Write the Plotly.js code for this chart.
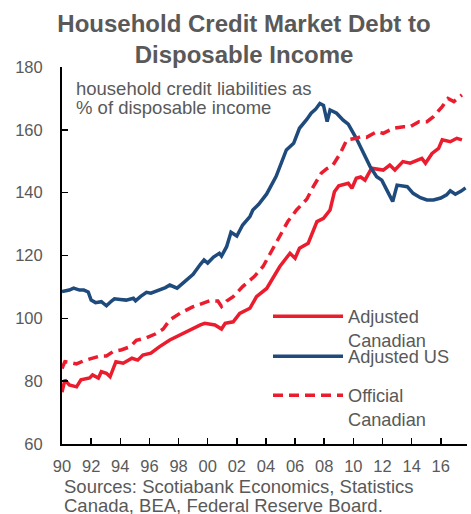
<!DOCTYPE html>
<html>
<head>
<meta charset="utf-8">
<script src="https://cdn.plot.ly/plotly-3.0.1.min.js"></script>
<style>html,body{margin:0;padding:0;background:#fff;}#chart{width:471px;height:514px;}</style>
</head>
<body>
<div id="chart"></div>
<script>
// Adjusted US
const usYears = [1990.0,1990.5,1990.8,1991.2,1991.5,1991.8,1992.0,1992.3,1992.7,1993.05,1993.4,1993.6,1994.0,1994.4,1994.9,1995.05,1995.4,1995.8,1996.1,1996.7,1997.1,1997.4,1997.9,1998.4,1999.0,1999.5,1999.75,2000.0,2000.4,2000.8,2000.95,2001.3,2001.6,2002.0,2002.4,2002.9,2003.1,2003.5,2004.05,2004.7,2005.1,2005.4,2005.9,2006.3,2006.8,2007.1,2007.4,2007.7,2007.95,2008.2,2008.4,2008.85,2009.3,2009.65,2010.2,2010.7,2011.15,2011.6,2011.95,2012.3,2012.7,2013.0,2013.7,2014.1,2014.6,2015.05,2015.5,2016.0,2016.4,2016.65,2017.0,2017.4,2017.7];
const usValues = [108.5,109.0,109.6,109.0,109.0,108.4,105.8,105.0,105.3,104.0,105.5,106.2,106.0,105.8,106.4,105.6,107.0,108.3,108.0,109.0,109.8,110.6,109.6,111.6,114.0,117.2,118.6,117.6,119.5,120.7,119.8,122.8,127.4,126.2,129.7,132.4,134.5,136.3,139.6,145.2,150.3,153.6,155.7,160.5,163.3,165.3,166.5,168.4,167.8,162.6,166.3,165.3,163.1,161.8,157.3,152.5,148.3,145.1,144.0,140.8,137.2,142.4,141.9,139.8,138.4,137.7,137.7,138.3,139.3,140.6,139.5,140.5,141.5];

// Official Canadian
const offYears = [1990.0,1990.2,1990.6,1991.0,1991.5,1992.1,1992.6,1993.05,1993.5,1994.1,1994.7,1995.1,1995.8,1996.4,1996.95,1997.4,1998.1,1999.0,1999.5,2000.15,2000.7,2000.95,2001.3,2001.75,2002.4,2003.2,2003.8,2004.3,2004.95,2005.5,2006.1,2006.8,2007.25,2007.8,2008.2,2008.6,2009.1,2009.55,2010.2,2010.5,2010.9,2011.6,2012.05,2012.75,2013.45,2013.9,2014.5,2015.05,2015.5,2016.1,2016.5,2016.9,2017.45];
const offValues = [84.0,86.2,85.9,85.5,86.5,87.3,88.0,88.0,89.4,90.0,91.0,93.0,93.8,95.0,96.6,99.5,101.6,103.7,104.6,105.6,105.5,103.8,105.5,106.9,110.1,113.3,116.5,120.7,126.0,130.8,134.5,137.9,141.9,146.2,147.7,148.8,152.5,156.8,157.3,157.8,157.6,159.4,158.9,160.5,161.0,161.0,162.6,162.6,164.2,167.4,170.0,169.0,171.1];

// Adjusted Canadian
const adjYears = [1990.0,1990.2,1990.5,1991.0,1991.3,1991.9,1992.1,1992.5,1992.7,1993.05,1993.3,1993.7,1994.2,1994.8,1995.2,1995.55,1996.1,1996.7,1997.4,1998.1,1998.7,1999.5,1999.8,2000.5,2000.95,2001.2,2001.75,2002.2,2002.9,2003.35,2004.05,2004.95,2005.65,2006.0,2006.3,2006.9,2007.5,2007.95,2008.4,2008.7,2009.0,2009.65,2009.9,2010.2,2010.5,2010.8,2011.25,2012.05,2012.5,2012.85,2013.4,2013.9,2014.7,2014.95,2015.4,2015.85,2016.1,2016.65,2017.1,2017.45];
const adjValues = [76.5,80.4,78.8,78.2,80.4,81.0,82.0,81.0,83.0,82.5,81.4,86.2,85.7,87.3,86.7,88.3,88.9,91.0,93.1,94.7,96.3,97.9,98.4,97.9,96.6,98.4,98.9,101.6,103.2,106.9,109.5,116.5,120.7,119.1,122.3,123.9,130.8,131.8,134.5,140.3,142.2,143.0,141.4,144.6,145.0,144.0,147.8,147.2,148.8,147.2,149.9,149.4,150.9,149.4,152.5,154.1,156.8,156.2,157.3,156.8];

const xTickVals = [1990,1992,1994,1996,1998,2000,2002,2004,2006,2008,2010,2012,2014,2016];
const xTickText = ['90','92','94','96','98','00','02','04','06','08','10','12','14','16'];
const yTickVals = [60,80,100,120,140,160,180];

const RED = '#EB1C2D';
const BLUE = '#1F4A7C';
const GRAY = '#595959';
const FONT = 'Liberation Sans, Arial, sans-serif';

// pixel helpers for paper placement (plot area: x 62..467, y 67..444)
const px = v => (v - 62) / 405;
const py = v => (444 - v) / 377;

const legendBase = {xanchor: 'left', yanchor: 'top', bgcolor: 'rgba(0,0,0,0)',
  font: {family: FONT, size: 18.2, color: GRAY}, valign: 'top', itemwidth: 70};

const traces = [
  {x: adjYears, y: adjValues, type: 'scatter', mode: 'lines', name: 'Adjusted<br>Canadian',
   legend: 'legend', line: {color: RED, width: 3.5}},
  {x: usYears, y: usValues, type: 'scatter', mode: 'lines', name: 'Adjusted US',
   legend: 'legend2', line: {color: BLUE, width: 3.5}},
  {x: offYears, y: offValues, type: 'scatter', mode: 'lines', name: 'Official<br>Canadian',
   legend: 'legend3', line: {color: RED, width: 3.5, dash: '10px,6px'}}
];

const layout = {
  width: 471, height: 514,
  margin: {l: 62, r: 4, t: 67, b: 70},
  paper_bgcolor: '#fff', plot_bgcolor: '#fff',
  font: {family: FONT, color: GRAY, size: 16.5},
  title: {text: '<b>Household Credit Market Debt to<br>Disposable Income</b>',
          font: {family: FONT, size: 24, color: GRAY},
          x: 244/471, xanchor: 'center', y: 1 - 32/514, yanchor: 'top'},
  showlegend: true,
  legend: Object.assign({}, legendBase, {x: px(268), y: py(298)}),
  legend2: Object.assign({}, legendBase, {x: px(268), y: py(338)}),
  legend3: Object.assign({}, legendBase, {x: px(268), y: py(377)}),
  xaxis: {range: [1990, 2017.8], tickvals: xTickVals, ticktext: xTickText,
          ticks: 'inside', ticklen: 6, tickwidth: 1.5, tickcolor: '#000',
          showline: true, linecolor: '#000', linewidth: 2, showgrid: false, zeroline: false,
          tickfont: {family: FONT, size: 16.5, color: GRAY}, ticklabelstandoff: 6, fixedrange: true},
  yaxis: {range: [60, 180], tickvals: yTickVals,
          ticks: 'inside', ticklen: 6, tickwidth: 1.5, tickcolor: '#000',
          showline: true, linecolor: '#000', linewidth: 2, showgrid: false, zeroline: false,
          tickfont: {family: FONT, size: 16.5, color: GRAY}, ticklabelstandoff: 14, fixedrange: true},
  annotations: [
    {xref: 'paper', yref: 'paper', x: px(74), y: py(88), xanchor: 'left', yanchor: 'middle',
     showarrow: false, text: 'household credit liabilities as',
     font: {family: FONT, size: 18.5, color: GRAY}},
    {xref: 'paper', yref: 'paper', x: px(74), y: py(108), xanchor: 'left', yanchor: 'middle',
     showarrow: false, text: '% of disposable income',
     font: {family: FONT, size: 18.5, color: GRAY}},
    {xref: 'paper', yref: 'paper', x: px(62), y: py(486), xanchor: 'left', yanchor: 'middle',
     showarrow: false, text: 'Sources: Scotiabank Economics, Statistics',
     font: {family: FONT, size: 18.5, color: GRAY}},
    {xref: 'paper', yref: 'paper', x: px(62), y: py(505.5), xanchor: 'left', yanchor: 'middle',
     showarrow: false, text: 'Canada, BEA, Federal Reserve Board.',
     font: {family: FONT, size: 18.5, color: GRAY}}
  ]
};

Plotly.newPlot('chart', traces, layout, {displayModeBar: false, staticPlot: true});
</script>
</body>
</html>
